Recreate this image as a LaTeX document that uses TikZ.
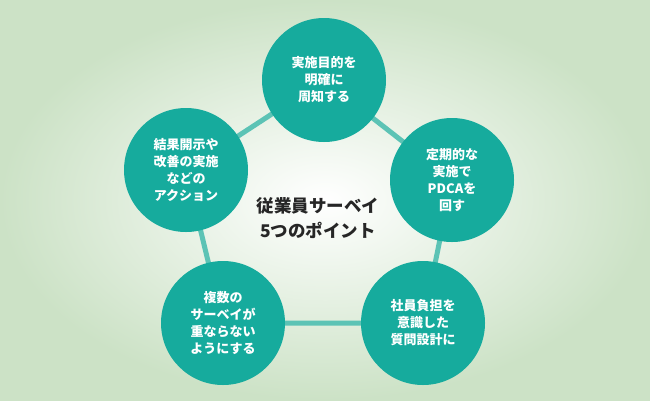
\documentclass[tikz,border=0pt]{standalone}
\usepackage{fontspec}
\setmainfont{Noto Sans CJK JP}
\usetikzlibrary{positioning}
\definecolor{pointfill}{HTML}{16AB9D}
\definecolor{edgeline}{HTML}{5CC3B5}
\definecolor{bgedge}{HTML}{CCE2C6}
\tikzset{
    % teal disc carrying one point
    point/.style={circle, fill=pointfill, text=white, minimum size=124pt,
        inner sep=0pt, align=center, font=\fontsize{13}{17}\selectfont\bfseries},
    % pentagon sides between the discs
    side/.style={edgeline, line width=5pt}}
\pgfdeclarelayer{back}
\pgfsetlayers{back,main}
\begin{document}
\begin{tikzpicture}[x=1pt, y=-1pt]
\useasboundingbox (0,0) rectangle (650,400);

% five points round the pentagon
\node [point] (goal) at (324,80) {実施目的を\\明確に\\周知する};
\node [point] (pdca) at (452,180) {定期的な\\実施で\\PDCAを\\回す};
\node [point] (load) at (423,323) {社員負担を\\意識した\\質問設計に};
\node [point] (overlap) at (223,323) {複数の\\サーベイが\\重ならない\\ようにする};
\node [point] (action) at (186,170) {結果開示や\\改善の実施\\などの\\アクション};

\node [font=\fontsize{17.5}{25}\selectfont\bfseries, align=center, text=black!85]
    (title) at (318,218) {従業員サーベイ\\5つのポイント};

% background and sides drawn under the discs
\begin{pgfonlayer}{back}
\shade [inner color=white, outer color=bgedge] (0,0) rectangle (650,400);
\draw [side] (goal.center) -- (pdca.center) -- (load.center)
    -- (overlap.center) -- (action.center) -- cycle;
\end{pgfonlayer}
\end{tikzpicture}
\end{document}
